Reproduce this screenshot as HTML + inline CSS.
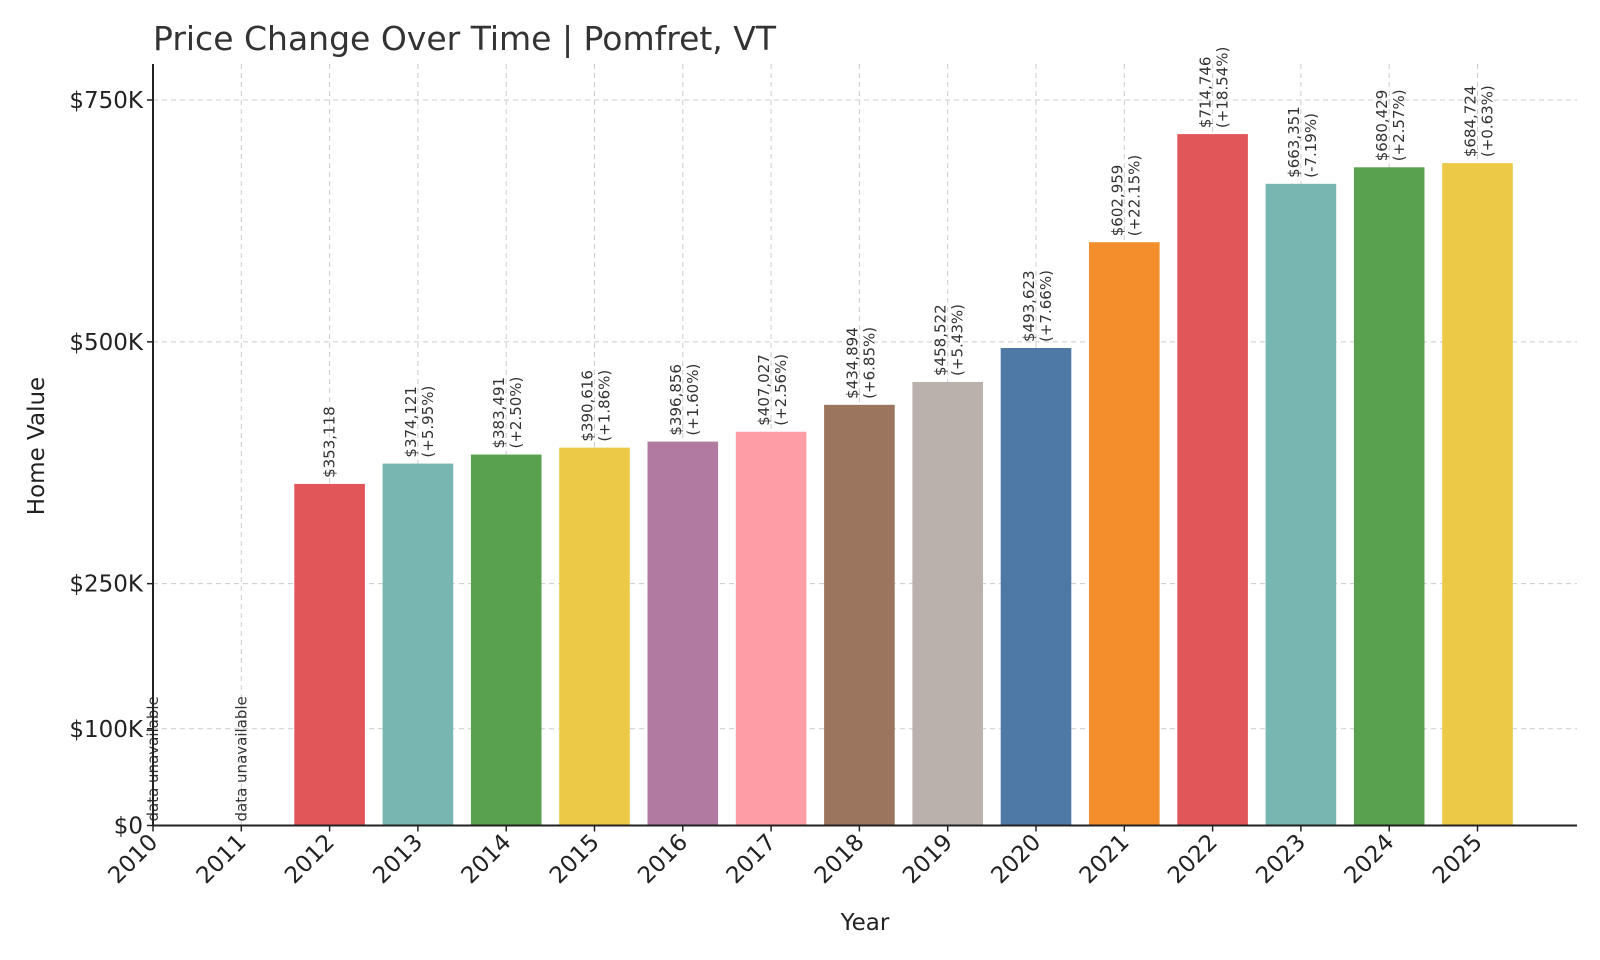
<!DOCTYPE html>
<html><head><meta charset="utf-8"><style>
body{margin:0;background:#fff;}
svg{display:block;font-family:"DejaVu Sans","Liberation Sans",sans-serif;}
</style></head><body>
<svg id="chart" width="1600" height="960" viewBox="0 0 1600 960" xmlns="http://www.w3.org/2000/svg">
<text x="153" y="50" font-size="33" fill="#333">Price Change Over Time | Pomfret, VT</text>
<g id="grid"></g><g id="bars"></g><g id="labels"></g><g id="axes"></g>
<text transform="translate(44,446) rotate(-90)" text-anchor="middle" font-size="23" fill="#222">Home Value</text>
<text x="865" y="930" text-anchor="middle" font-size="23" fill="#222">Year</text>
</svg>
<script>
const years=[2010,2011,2012,2013,2014,2015,2016,2017,2018,2019,2020,2021,2022,2023,2024,2025];
const values=[null,null,353118,374121,383491,390616,396856,407027,434894,458522,493623,602959,714746,663351,680429,684724];
const changes=[null,null,null,"+5.95%","+2.50%","+1.86%","+1.60%","+2.56%","+6.85%","+5.43%","+7.66%","+22.15%","+18.54%","-7.19%","+2.57%","+0.63%"];
const yTicks=[0,100000,250000,500000,750000];
const yTickLabels=["$0","$100K","$250K","$500K","$750K"];
const colors=["#e15759","#76b7b2","#59a14f","#edc948","#b07aa1","#ff9da7","#9c755f","#bab0ac","#4e79a7","#f28e2b"];
const NS="http://www.w3.org/2000/svg";
const X0=153,STEP=88.3,Y0=825.5,PXK=725.5/750000,BW=70.6,RIGHT=1577,TOP=64;
const xs=i=>X0+i*STEP, ys=v=>Y0-v*PXK;
function mk(tag,attrs,parent){const e=document.createElementNS(NS,tag);for(const k in attrs)e.setAttribute(k,attrs[k]);parent.appendChild(e);return e;}
const grid=document.getElementById('grid'),bars=document.getElementById('bars'),labels=document.getElementById('labels'),axes=document.getElementById('axes');
yTicks.forEach((t,i)=>{
  if(t>0){const g=mk('line',{x1:X0,x2:RIGHT,y1:ys(t),y2:ys(t),stroke:'#ccc','stroke-dasharray':'5,4'},grid);
  
  }
  mk('line',{x1:X0-6,x2:X0,y1:ys(t),y2:ys(t),stroke:'#222','stroke-width':1.5},axes);
  const tx=mk('text',{x:X0-10,y:ys(t)+8,'text-anchor':'end','font-size':23,fill:'#222'},axes);
  tx.textContent=yTickLabels[i];
  
  
});
years.forEach((y,i)=>{
  const x=xs(i);
  const g=mk('line',{x1:x,x2:x,y1:TOP,y2:Y0,stroke:'#ccc','stroke-dasharray':'5,4'},grid);
  
  
  mk('line',{x1:x,x2:x,y1:Y0,y2:Y0+6,stroke:'#222','stroke-width':1.5},axes);
  const tx=mk('text',{transform:`translate(${x+6},${Y0+18}) rotate(-45)`,'text-anchor':'end','font-size':23,fill:'#222'},axes);
  tx.textContent=y;
  
  
  const v=values[i];
  if(v==null){
    const t=mk('text',{transform:`translate(${x+5},${Y0-4}) rotate(-90)`,'font-size':15,fill:'#333'},labels);
    t.textContent='data unavailable';
    
    
    return;
  }
  const r=mk('rect',{x:x-BW/2,y:ys(v),width:BW,height:Y0-ys(v),fill:colors[(i-2)%colors.length]},bars);
  
  
  const t=mk('text',{transform:`translate(${x},${ys(v)-6}) rotate(-90)`,'font-size':15,fill:'#333'},labels);
  
  
  const s1=mk('tspan',{x:0,dy:changes[i]?-2:5},t);s1.textContent='$'+v.toLocaleString('en-US');
  if(changes[i]){const s2=mk('tspan',{x:0,dy:17},t);s2.textContent='('+changes[i]+')';}
});
mk('line',{x1:X0,x2:X0,y1:TOP,y2:Y0,stroke:'#222','stroke-width':2},axes);
mk('line',{x1:X0,x2:RIGHT,y1:Y0,y2:Y0,stroke:'#222','stroke-width':2},axes);
</script>
</body></html>
